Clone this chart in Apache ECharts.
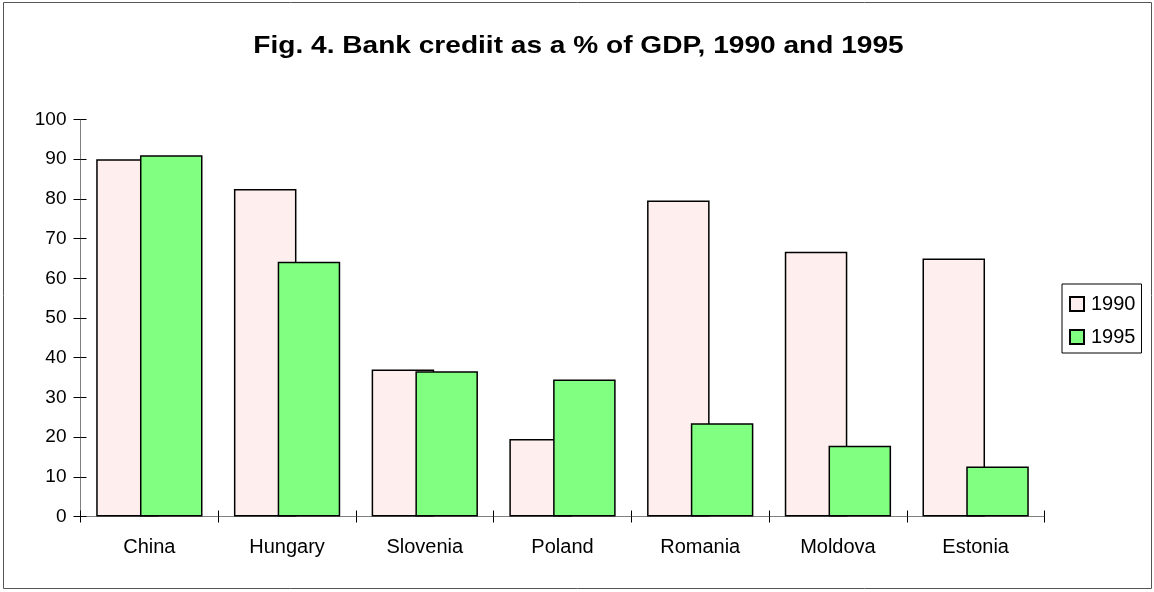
<!DOCTYPE html>
<html>
<head>
<meta charset="utf-8">
<script src="https://cdn.jsdelivr.net/npm/echarts@6/dist/echarts.min.js"></script>
<style>
  html, body { margin: 0; padding: 0; background: #fff; }
  #chart { width: 1154px; height: 592px; }
</style>
</head>
<body>
<div id="chart"></div>
<script>
// Bank credit as a share of GDP, by country
const countries = ['China', 'Hungary', 'Slovenia', 'Poland', 'Romania', 'Moldova', 'Estonia'];
const credit1990 = [90.0, 82.5, 37.0, 19.5, 79.6, 66.7, 65.0];
const credit1995 = [91.0, 64.2, 36.6, 34.5, 23.5, 17.8, 12.6];
const yearNames = ['1990', '1995'];
const yTicks = { min: 0, max: 100, interval: 10 };
const chartTitle = 'Fig. 4. Bank crediit as a % of GDP, 1990 and 1995';

const FONT = '"Liberation Sans", Arial, sans-serif';
const AXIS_GRAY = '#808080';

const chart = echarts.init(document.getElementById('chart'), null, { renderer: 'canvas' });

const baseY = {
  type: 'value', min: yTicks.min, max: yTicks.max, interval: yTicks.interval,
  splitLine: { show: false },
  axisLine: { show: true, lineStyle: { color: AXIS_GRAY, width: 1 } }
};
const baseX = {
  type: 'category', data: countries, boundaryGap: true,
  axisLine: { show: true, lineStyle: { color: AXIS_GRAY, width: 1 } }
};

chart.setOption({
  animation: false,
  backgroundColor: '#ffffff',
  legend: {
    orient: 'vertical',
    left: 1062, top: 284,
    data: yearNames,
    icon: 'rect',
    itemWidth: 14, itemHeight: 14, itemGap: 13,
    padding: [10, 6, 6, 7],
    borderColor: '#000', borderWidth: 1,
    textStyle: { fontFamily: FONT, fontSize: 20, lineHeight: 20, color: '#000', padding: [0, 0, 0, 2] }
  },
  grid: { left: 80.5, right: 109.5, top: 119.5, bottom: 75.5, containLabel: false },
  xAxis: [
    Object.assign({}, baseX, {
      axisTick: { show: true, inside: false, length: 6, lineStyle: { color: '#000' } },
      axisLabel: { fontFamily: FONT, fontSize: 20, color: '#000', margin: 21 }
    }),
    Object.assign({}, baseX, {
      position: 'bottom',
      axisTick: { show: true, inside: true, length: 6, lineStyle: { color: '#000' } },
      axisLabel: { show: false }
    })
  ],
  yAxis: [
    Object.assign({}, baseY, {
      axisTick: { show: true, inside: false, length: 7, lineStyle: { color: '#000' } },
      axisLabel: { fontFamily: FONT, fontSize: 19, color: '#000', margin: 14 }
    }),
    Object.assign({}, baseY, {
      position: 'left',
      axisTick: { show: true, inside: true, length: 6, lineStyle: { color: '#000' } },
      axisLabel: { show: false }
    })
  ],
  graphic: [
    {
      // outer chart frame
      type: 'rect', silent: true, z: -1,
      shape: { x: 3.5, y: 2.5, width: 1148, height: 586 },
      style: { fill: 'none', stroke: '#555', lineWidth: 1 }
    },
    {
      // wide bold title
      type: 'text', silent: true,
      x: 578.5, y: 46, scaleX: 1.17,
      style: {
        text: chartTitle,
        font: 'bold 24px "Liberation Sans", Arial, sans-serif',
        fill: '#000', align: 'center', verticalAlign: 'middle'
      }
    }
  ],
  series: [
    {
      name: yearNames[0], type: 'bar', data: credit1990,
      barWidth: '45.4%', barGap: '-30%',
      itemStyle: { color: '#FFEEEE', borderColor: '#000', borderWidth: 1.5 }
    },
    {
      name: yearNames[1], type: 'bar', data: credit1995,
      barWidth: '45.4%', barGap: '-30%',
      itemStyle: { color: '#80FF80', borderColor: '#000', borderWidth: 1.5 }
    }
  ]
});
</script>
</body>
</html>
